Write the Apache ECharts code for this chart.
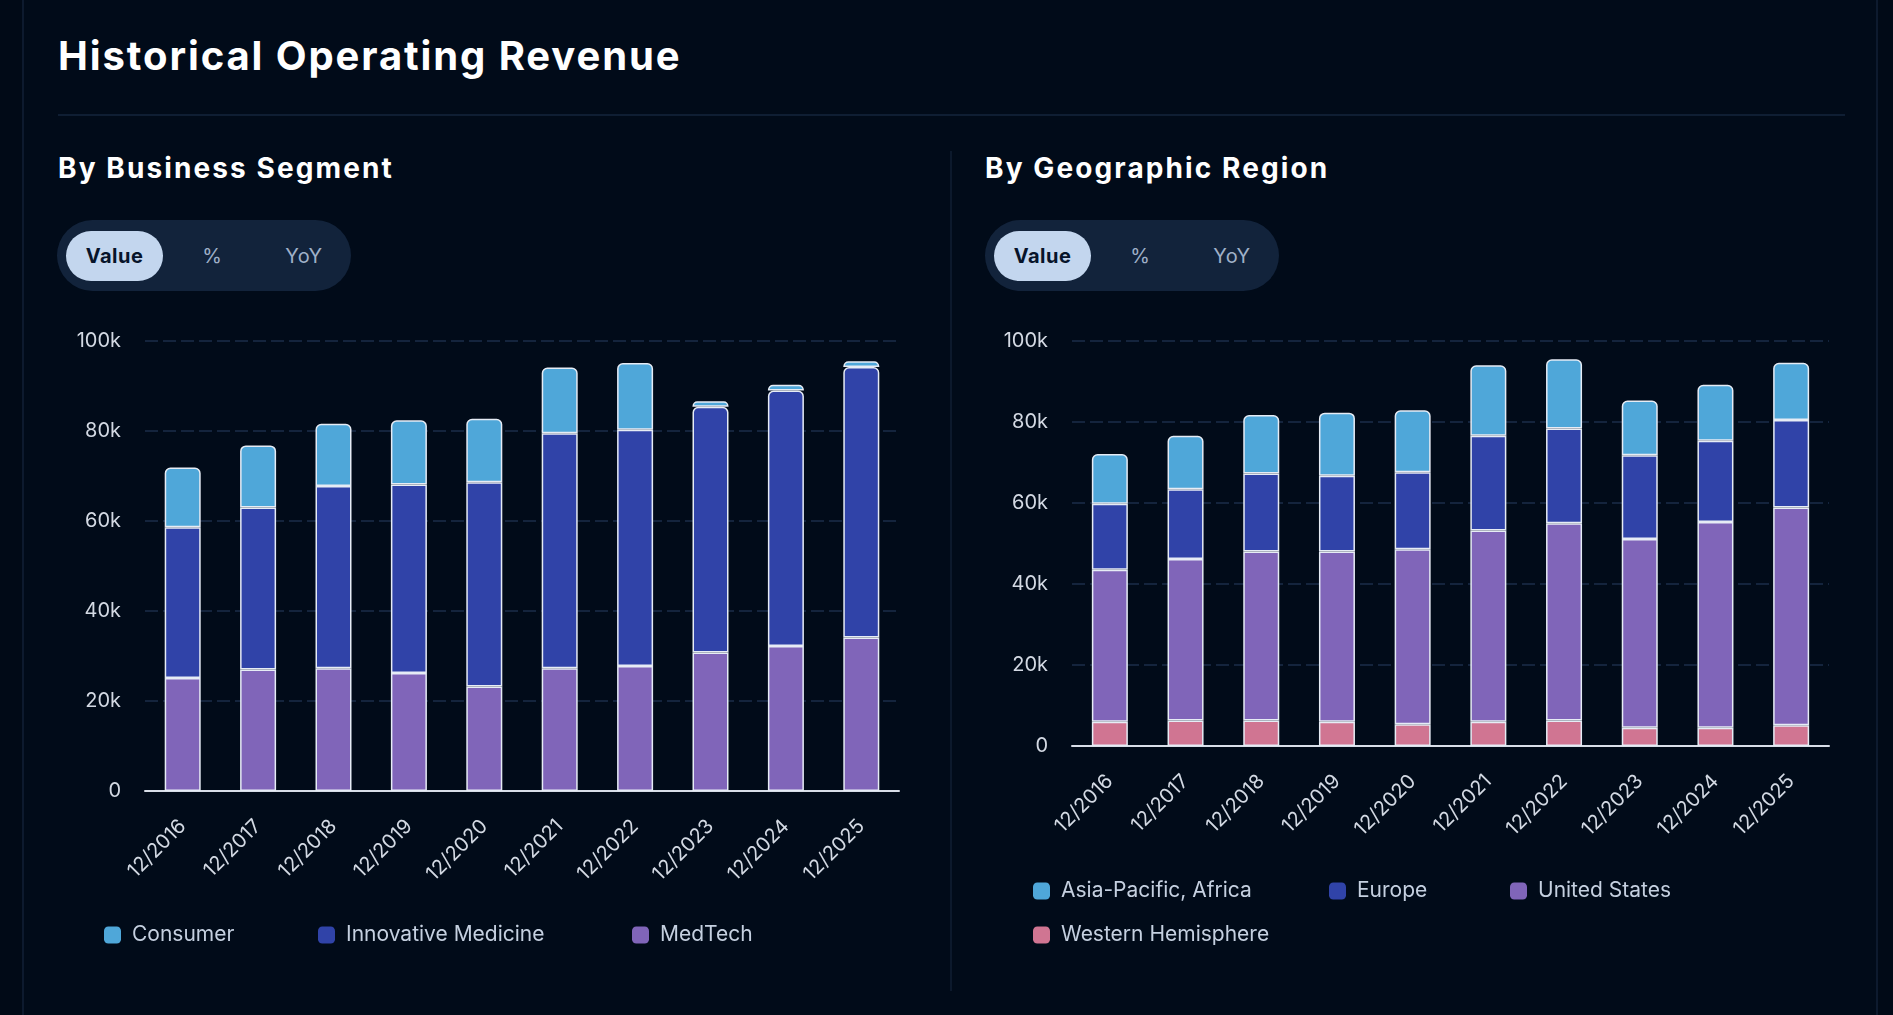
<!DOCTYPE html>
<html>
<head>
<meta charset="utf-8">
<title>Historical Operating Revenue</title>
<script src="https://cdn.jsdelivr.net/npm/echarts@6/dist/echarts.min.js"></script>
<style>
  html, body { margin: 0; padding: 0; width: 1893px; height: 1015px; overflow: hidden; background: #010a17; font-family: Inter, "Noto Sans", sans-serif; }
  .card { position: absolute; left: 22px; top: -20px; width: 1856px; height: 1080px; border: 2px solid #0d1a2e; border-radius: 16px; background: #010b19; box-sizing: border-box; }
  .title { position: absolute; left: 58px; top: 36px; font-size: 40px; line-height: 40px; font-weight: 700; color: #ffffff; white-space: nowrap; letter-spacing: 1.9px; }
  .rule { position: absolute; left: 58px; top: 114px; width: 1787px; height: 2px; background: #0f1e33; }
  .divider { position: absolute; left: 950px; top: 151px; width: 2px; height: 840px; background: #0c192c; }
  .subtitle { position: absolute; top: 154px; font-size: 28px; line-height: 28px; font-weight: 700; color: #ffffff; white-space: nowrap; letter-spacing: 2.1px; }
  .toggle { position: absolute; top: 220px; width: 294px; height: 71px; border-radius: 36px; background: #12233b; }
  .toggle span { position: absolute; top: 11px; height: 50px; line-height: 50px; font-size: 20px; color: #9fb0c8; text-align: center; }
  .toggle span.on { left: 9px; width: 97px; border-radius: 25px; background: #c3d6ee; color: #07142a; font-weight: 700; letter-spacing: 0.5px; }
  .toggle span.pct { left: 155px; width: 60px; margin-left: -30px; }
  .toggle span.yoy { left: 247px; width: 80px; margin-left: -40px; letter-spacing: 0.5px; }
  #chart { position: absolute; left: 0; top: 0; width: 1893px; height: 1015px; }
</style>
</head>
<body>
<div class="card"></div>
<div class="title">Historical Operating Revenue</div>
<div class="rule"></div>
<div class="divider"></div>
<div class="subtitle" style="left:58px">By Business Segment</div>
<div class="subtitle" style="left:985px">By Geographic Region</div>
<div class="toggle" style="left:57px"><span class="on">Value</span><span class="pct">%</span><span class="yoy">YoY</span></div>
<div class="toggle" style="left:985px"><span class="on">Value</span><span class="pct">%</span><span class="yoy">YoY</span></div>
<div id="chart"></div>
<script>
// fiscal years, values in $M
const years = ['12/2016', '12/2017', '12/2018', '12/2019', '12/2020', '12/2021', '12/2022', '12/2023', '12/2024', '12/2025'];

// by business segment
const medTech = [25100, 27000, 27300, 26200, 23200, 27300, 27800, 30800, 32200, 34100];
const innovativeMedicine = [33500, 36000, 40500, 41900, 45400, 52200, 52500, 54600, 56800, 60100];
const consumer = [13300, 13800, 13800, 14300, 14100, 14600, 14800, 1200, 1300, 1300];

// by geographic region
const westernHemisphere = [6000, 6300, 6300, 6000, 5400, 6000, 6300, 4500, 4500, 5100];
const unitedStates = [37500, 39900, 41700, 42000, 43200, 47200, 48700, 46600, 50800, 53800];
const europe = [16300, 17200, 19300, 18700, 19000, 23400, 23400, 20700, 20100, 21600];
const asiaPacificAfrica = [12300, 13200, 14400, 15600, 15300, 17400, 17100, 13500, 13800, 14100];

const yTicks = { min: 0, max: 100000, interval: 20000 };

const COLORS = {
    lightBlue: '#4fa7d9',
    blue: '#3043a8',
    purple: '#8065b9',
    pink: '#d07592'
};
const FONT = 'Inter, "Noto Sans", sans-serif';
const LABEL = '#d3d9e3';

function yAxis(gridIndex) {
    return {
        type: 'value',
        gridIndex: gridIndex,
        min: yTicks.min,
        max: yTicks.max,
        interval: yTicks.interval,
        axisLine: { show: false },
        axisTick: { show: false },
        axisLabel: {
            color: LABEL,
            fontSize: 20,
            fontFamily: FONT,
            margin: 24,
            padding: [4, 0, 0, 0],
            formatter: v => v === 0 ? '0' : (v / 1000) + 'k'
        },
        splitLine: {
            lineStyle: { color: '#14243d', width: 2, type: [13, 5] }
        }
    };
}

function xAxis(gridIndex) {
    return {
        type: 'category',
        gridIndex: gridIndex,
        data: years,
        axisLine: { lineStyle: { color: '#d8dee8', width: 2 } },
        axisTick: { alignWithLabel: true, length: 14, lineStyle: { color: '#d8dee8', width: 2 } },
        axisLabel: {
            color: LABEL,
            fontSize: 20,
            fontFamily: FONT,
            rotate: 45,
            margin: 32
        },
        splitLine: { show: false }
    };
}

function bar(name, data, color, idx, top) {
    return {
        name: name,
        type: 'bar',
        stack: 'total' + idx,
        xAxisIndex: idx,
        yAxisIndex: idx,
        barWidth: 36,
        data: data,
        itemStyle: {
            color: color,
            borderColor: '#e6ecf5',
            borderWidth: 1.5,
            borderRadius: top ? [5, 5, 0, 0] : 0
        },
        emphasis: { disabled: true }
    };
}

function legendItem(name, left, top) {
    return {
        data: [name],
        left: left,
        top: top,
        padding: 0,
        icon: 'roundRect',
        itemWidth: 17,
        itemHeight: 17,
        itemStyle: { borderWidth: 0 },
        textStyle: {
            color: '#c5d0e0',
            fontSize: 21,
            fontFamily: FONT,
            lineHeight: 24,
            padding: [0, 0, 0, 6]
        },
        selectedMode: false
    };
}

// when the consumer slice is only a sliver, the segment below gets the rounded top as well
const innovData = innovativeMedicine.map((v, i) =>
    consumer[i] < 2000 ? { value: v, itemStyle: { borderRadius: [5, 5, 0, 0] } } : v);

const chart = echarts.init(document.getElementById('chart'));
chart.setOption({
    backgroundColor: 'transparent',
    animation: false,
    textStyle: { fontFamily: FONT },
    grid: [
        { left: 145, top: 341, width: 754, height: 450, outerBoundsMode: 'none' },
        { left: 1072, top: 341, width: 757, height: 405, outerBoundsMode: 'none' }
    ],
    xAxis: [xAxis(0), xAxis(1)],
    yAxis: [yAxis(0), yAxis(1)],
    legend: [
        legendItem('Consumer', 104, 923),
        legendItem('Innovative Medicine', 318, 923),
        legendItem('MedTech', 632, 923),
        legendItem('Asia-Pacific, Africa', 1033, 879),
        legendItem('Europe', 1329, 879),
        legendItem('United States', 1510, 879),
        legendItem('Western Hemisphere', 1033, 923)
    ],
    series: [
        bar('MedTech', medTech, COLORS.purple, 0, false),
        bar('Innovative Medicine', innovData, COLORS.blue, 0, false),
        bar('Consumer', consumer, COLORS.lightBlue, 0, true),
        bar('Western Hemisphere', westernHemisphere, COLORS.pink, 1, false),
        bar('United States', unitedStates, COLORS.purple, 1, false),
        bar('Europe', europe, COLORS.blue, 1, false),
        bar('Asia-Pacific, Africa', asiaPacificAfrica, COLORS.lightBlue, 1, true)
    ]
});
</script>
</body>
</html>
